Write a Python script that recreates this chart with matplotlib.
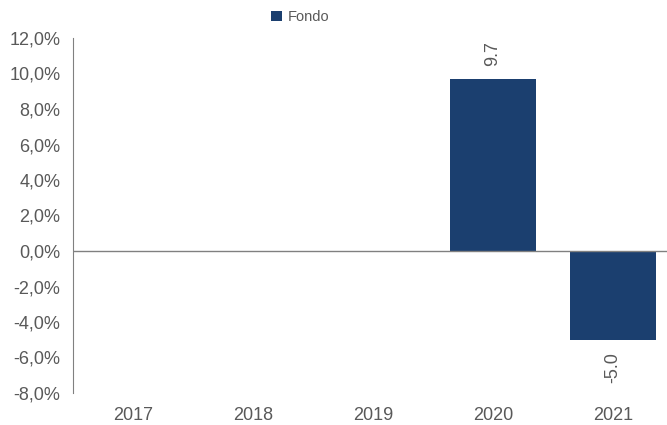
import matplotlib.pyplot as plt
from matplotlib.ticker import FuncFormatter, MultipleLocator
from matplotlib.patches import Patch

years = ["2017", "2018", "2019", "2020", "2021"]
fondo = [None, None, None, 9.7, -5.0]

BAR_COLOR = "#1b3f6f"
TEXT_COLOR = "#595959"

plt.rcParams['font.family'] = ['Liberation Sans', 'DejaVu Sans']

fig = plt.figure(figsize=(6.67, 4.25), dpi=100)
ax = fig.add_axes([73 / 667, 32 / 425, 600 / 667, 355 / 425])

x = list(range(len(years)))
for i, v in enumerate(fondo):
	if v is None:
		continue
	ax.bar(i, v, width=0.71, color=BAR_COLOR, zorder=2)
	# etichetta ruotata sopra/sotto la barra
	if v >= 0:
		ax.annotate(f"{v:.1f}", (i, v), xytext=(0, 9), textcoords="offset points",
			rotation=90, ha="center", va="bottom", fontsize=13, color=TEXT_COLOR)
	else:
		ax.annotate(f"{v:.1f}", (i, v), xytext=(0, -9), textcoords="offset points",
			rotation=90, ha="center", va="top", fontsize=13, color=TEXT_COLOR)

ax.set_xlim(-0.5, len(years) - 0.5)
ax.set_ylim(-8, 12)
ax.yaxis.set_major_locator(MultipleLocator(2))
ax.yaxis.set_major_formatter(FuncFormatter(lambda v, p: f"{v:.1f}%".replace(".", ",")))
ax.set_xticks(x)
ax.set_xticklabels(years)

ax.axhline(0, color="#808080", lw=1, zorder=3)

for s in ["top", "right", "bottom"]:
	ax.spines[s].set_visible(False)
ax.spines["left"].set_color("#808080")
ax.tick_params(axis="both", length=0, labelsize=13, labelcolor=TEXT_COLOR)
ax.tick_params(axis="y", pad=9)
ax.tick_params(axis="x", pad=10)

handles = [Patch(facecolor=BAR_COLOR, label="Fondo")]
fig.legend(handles=handles, loc="center", bbox_to_anchor=(300 / 667, 1 - 17 / 425),
	frameon=False, fontsize=10.5, handlelength=0.75, handleheight=0.75,
	handletextpad=0.4, labelcolor=TEXT_COLOR)

fig.savefig("out.png", dpi=100)
